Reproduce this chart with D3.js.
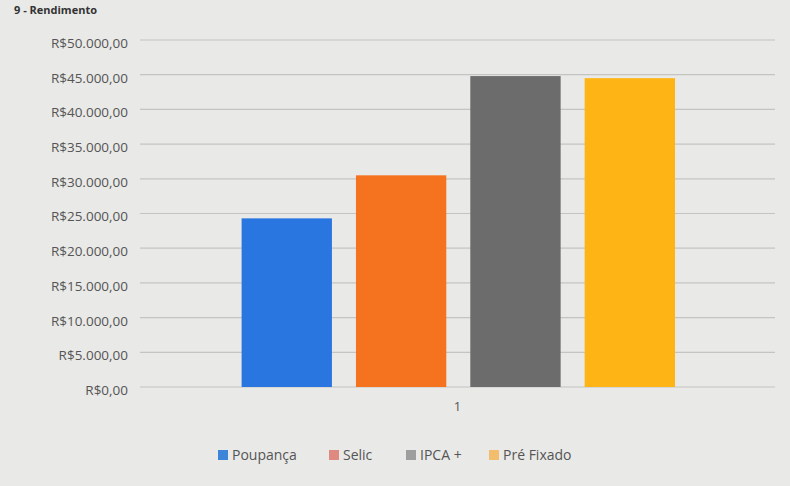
<!DOCTYPE html>
<html>
<head>
    <meta charset="utf-8">
    <script src="https://d3js.org/d3.v7.min.js"></script>
    <style>
        body { margin: 0; background: #e9e9e7; }
        .tick text { font-family: "Open Sans", sans-serif; fill: #555; }
    </style>
</head>
<body>
    <div id="graph"></div>
    <script>
        // Data
        const categories = ["1"];
        const series = ["Poupança", "Selic", "IPCA +", "Pré Fixado"];
        const values = [24300, 30500, 44800, 44500];
        const colors = ["#2a76e0", "#f5731f", "#6c6c6c", "#fdb414"];
        const legendColors = ["#3d85d8", "#de8a80", "#9e9e9e", "#f3bd6e"];
        const yTicks = [0, 5000, 10000, 15000, 20000, 25000, 30000, 35000, 40000, 45000, 50000];

        const W = 790, H = 486;
        const margin = { top: 40, right: 15, bottom: 99, left: 140 };
        const width = W - margin.left - margin.right,
            height = H - margin.top - margin.bottom;

        const svg = d3.select("#graph").append("svg")
            .attr("width", W)
            .attr("height", H);

        svg.append("rect").attr("width", W).attr("height", H).attr("fill", "#e9e9e7");

        // title strip at the very top of the photo
        svg.append("text")
            .attr("x", 14)
            .attr("y", 14)
            .attr("font-family", "Open Sans, sans-serif")
            .attr("font-weight", "bold")
            .attr("font-size", 11)
            .attr("fill", "#333")
            .text("9 - Rendimento");

        const g = svg.append("g")
            .attr("transform", "translate(" + margin.left + "," + margin.top + ")");

        const x0 = d3.scaleBand().domain(categories).range([0, width]);
        const x1 = d3.scaleBand().domain(series)
            .range([x0.bandwidth() * 0.16, x0.bandwidth() * 0.8425])
            .paddingInner(0.21);
        const y = d3.scaleLinear().domain([0, 50000]).range([height, 0]);

        const fmt = v => "R$" + d3.format(",.2f")(v).replace(/,/g, "#").replace(".", ",").replace(/#/g, ".");

        // gridlines
        g.append("g")
            .selectAll("line")
            .data(yTicks)
            .enter().append("line")
            .attr("x1", 0)
            .attr("x2", width)
            .attr("y1", d => y(d))
            .attr("y2", d => y(d))
            .attr("stroke", "#c4c4c2")
            .attr("stroke-width", 1.2);

        // y axis labels
        const yAxis = g.append("g")
            .call(d3.axisLeft(y).tickValues(yTicks).tickFormat(fmt).tickSize(0).tickPadding(12));
        yAxis.select(".domain").remove();
        yAxis.selectAll(".tick text").attr("font-size", 13.5).attr("dy", "0.55em");

        // bars
        const data = series.map((s, i) => ({ series: s, category: categories[0], value: values[i], color: colors[i] }));
        g.append("g")
            .selectAll("rect")
            .data(data)
            .enter().append("rect")
            .attr("x", d => x0(d.category) + x1(d.series))
            .attr("y", d => y(d.value))
            .attr("width", x1.bandwidth())
            .attr("height", d => height - y(d.value))
            .attr("fill", d => d.color);

        // x axis label
        const xAxis = g.append("g")
            .attr("transform", "translate(0," + height + ")")
            .call(d3.axisBottom(x0).tickSize(0).tickPadding(15));
        xAxis.select(".domain").remove();
        xAxis.selectAll(".tick text").attr("font-size", 13).attr("fill", "#444");

        // legend
        const legendX = [218, 329, 406, 489];
        const legend = svg.append("g")
            .selectAll("g")
            .data(series)
            .enter().append("g")
            .attr("transform", (d, i) => "translate(" + legendX[i] + ",455)");

        legend.append("rect")
            .attr("x", 0)
            .attr("y", -5)
            .attr("width", 10)
            .attr("height", 10)
            .attr("fill", (d, i) => legendColors[i]);

        legend.append("text")
            .attr("x", 14)
            .attr("y", 0)
            .attr("dy", "0.35em")
            .attr("font-family", "Open Sans, sans-serif")
            .attr("font-size", 14)
            .attr("fill", "#555")
            .text(d => d);
    </script>
</body>
</html>
